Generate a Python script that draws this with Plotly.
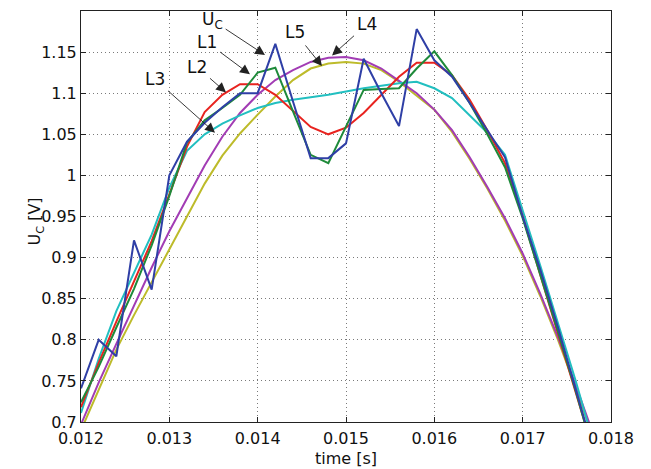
import plotly.graph_objects as go

# time samples [s]
time_s = [0.0120, 0.0122, 0.0124, 0.0126, 0.0128, 0.0130, 0.0132, 0.0134, 0.0136, 0.0138,
          0.0140, 0.0142, 0.0144, 0.0146, 0.0148, 0.0150, 0.0152, 0.0154, 0.0156, 0.0158,
          0.0160, 0.0162, 0.0164, 0.0166, 0.0168, 0.0170, 0.0172, 0.0174, 0.0176, 0.0178]

uc = [0.741, 0.800, 0.780, 0.921, 0.861, 1.000, 1.041, 1.064, 1.083, 1.100,
      1.100, 1.160, 1.090, 1.021, 1.021, 1.039, 1.142, 1.100, 1.060, 1.178,
      1.140, 1.120, 1.088, 1.055, 1.022, 0.950, 0.885, 0.815, 0.742, 0.665]

l1 = [0.724, 0.767, 0.815, 0.862, 0.915, 0.975, 1.040, 1.067, 1.082, 1.098,
      1.125, 1.131, 1.078, 1.025, 1.015, 1.060, 1.104, 1.105, 1.106, 1.130,
      1.151, 1.122, 1.088, 1.050, 1.010, 0.948, 0.880, 0.810, 0.738, 0.662]

l2 = [0.718, 0.772, 0.822, 0.870, 0.920, 0.977, 1.035, 1.077, 1.098, 1.111,
      1.111, 1.098, 1.078, 1.059, 1.050, 1.058, 1.076, 1.098, 1.120, 1.137,
      1.137, 1.122, 1.092, 1.055, 1.015, 0.950, 0.880, 0.810, 0.740, 0.665]

l3 = [0.711, 0.777, 0.835, 0.882, 0.928, 0.985, 1.030, 1.050, 1.063, 1.073,
      1.082, 1.088, 1.092, 1.095, 1.098, 1.102, 1.106, 1.109, 1.112, 1.114,
      1.106, 1.094, 1.073, 1.052, 1.025, 0.958, 0.890, 0.820, 0.750, 0.675]

l4 = [0.697, 0.748, 0.795, 0.842, 0.888, 0.932, 0.972, 1.012, 1.047, 1.076,
      1.098, 1.116, 1.128, 1.138, 1.143, 1.144, 1.140, 1.130, 1.115, 1.100,
      1.080, 1.055, 1.022, 0.986, 0.948, 0.905, 0.856, 0.803, 0.745, 0.685]

l5 = [0.690, 0.740, 0.788, 0.830, 0.870, 0.910, 0.950, 0.990, 1.024, 1.051,
      1.074, 1.096, 1.116, 1.130, 1.136, 1.138, 1.136, 1.128, 1.114, 1.097,
      1.080, 1.053, 1.020, 0.984, 0.945, 0.902, 0.853, 0.800, 0.742, 0.680]

series_names = ["U_C", "L1", "L2", "L3", "L4", "L5"]
series_values = [uc, l1, l2, l3, l4, l5]
series_colors = ["#2f3fa6", "#1e8a3a", "#e8231f", "#22bfc0", "#a23cb4", "#bdbb2a"]
draw_order = [5, 4, 3, 2, 1, 0]

x_ticks = [0.012, 0.013, 0.014, 0.015, 0.016, 0.017, 0.018]
x_tick_text = ["0.012", "0.013", "0.014", "0.015", "0.016", "0.017", "0.018"]
y_ticks = [0.7, 0.75, 0.8, 0.85, 0.9, 0.95, 1.0, 1.05, 1.1, 1.15]
y_tick_text = ["0.7", "0.75", "0.8", "0.85", "0.9", "0.95", "1", "1.05", "1.1", "1.15"]
x_title = "time [s]"
y_title = "U<sub>C</sub> [V]"

fig = go.Figure()
for i in draw_order:
    fig.add_trace(go.Scatter(x=time_s, y=series_values[i], mode="lines",
                             name=series_names[i],
                             line=dict(color=series_colors[i], width=2)))

# label text, (text x, text y), (arrow head x, arrow head y)
labels = [
    ("U<sub>C</sub>", 0.013483, 1.189, 0.014083, 1.1465),
    ("L1", 0.013426, 1.162, 0.013913, 1.123),
    ("L2", 0.013313, 1.132, 0.013642, 1.101),
    ("L3", 0.012838, 1.117, 0.013517, 1.052),
    ("L5", 0.014423, 1.174, 0.014728, 1.133),
    ("L4", 0.015238, 1.184, 0.014842, 1.146),
]
for txt, tx, ty, hx, hy in labels:
    fig.add_annotation(x=hx, y=hy, ax=tx, ay=ty, xref="x", yref="y", axref="x", ayref="y",
                       text=txt, showarrow=True, arrowhead=2, arrowsize=2.2, arrowwidth=0.9,
                       arrowcolor="#222222", standoff=0, startstandoff=2,
                       font=dict(family="DejaVu Sans", size=17, color="#111111"))

# axis titles
fig.add_annotation(text=x_title, xref="paper", yref="paper", x=0.5, y=-0.088,
                   showarrow=False, xanchor="center", yanchor="middle",
                   font=dict(family="DejaVu Sans", size=16, color="#111111"))
fig.add_annotation(text=y_title, xref="paper", yref="paper", x=-0.086, y=0.489,
                   showarrow=False, xanchor="center", yanchor="middle", textangle=-90,
                   font=dict(family="DejaVu Sans", size=16, color="#111111"))

fig.update_layout(
    width=651, height=469,
    margin=dict(l=81, r=40, t=11, b=47, autoexpand=False),
    paper_bgcolor="white", plot_bgcolor="white",
    showlegend=False,
    font=dict(family="DejaVu Sans", size=16, color="#111111"),
)
fig.update_xaxes(range=[0.012, 0.018], tickvals=x_ticks, ticktext=x_tick_text,
                 showgrid=True, gridcolor="#7a7a7a", griddash="1px,3px", gridwidth=1,
                 showline=True, linecolor="#222222", linewidth=1, mirror="ticks",
                 ticks="inside", ticklen=5, tickcolor="#222222", ticklabelstandoff=2,
                 automargin=False, zeroline=False)
fig.update_yaxes(range=[0.7, 1.2], tickvals=y_ticks, ticktext=y_tick_text,
                 showgrid=True, gridcolor="#7a7a7a", griddash="1px,3px", gridwidth=1,
                 showline=True, linecolor="#222222", linewidth=1, mirror="ticks",
                 ticks="inside", ticklen=5, tickcolor="#222222", automargin=False,
                 zeroline=False)

fig.write_html("out.html")
